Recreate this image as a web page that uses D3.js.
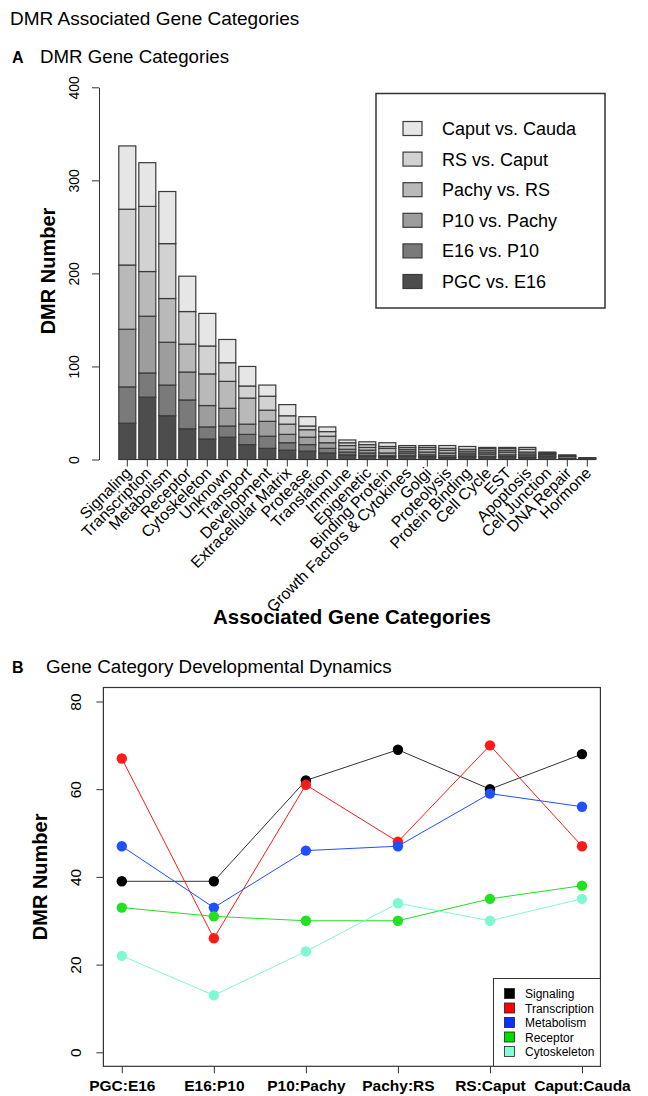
<!DOCTYPE html>
<html><head><meta charset="utf-8">
<script src="https://cdn.jsdelivr.net/npm/d3@7"></script>
<style>
html,body{margin:0;padding:0;background:#fff;}
svg text{font-family:"Liberation Sans",Arial,Helvetica,sans-serif;fill:#000;}
</style></head>
<body>
<svg id="c" width="648" height="1096"></svg>
<script>
// ---------- DATA ----------
const categories = ["Signaling","Transcription","Metabolism","Receptor","Cytoskeleton","Unknown","Transport","Development","Extracellular Matrix","Protease","Translation","Immune","Epigenetic","Binding Protein","Growth Factors & Cytokines","Golgi","Proteolysis","Protein Binding","Cell Cycle","EST","Apoptosis","Cell Junction","DNA Repair","Hormone"];
const stageNames = ["PGC vs. E16","E16 vs. P10","P10 vs. Pachy","Pachy vs. RS","RS vs. Caput","Caput vs. Cauda"];
const stageShort = ["PGC:E16","E16:P10","P10:Pachy","Pachy:RS","RS:Caput","Caput:Cauda"];
const pgcE16     = [39,67,47,33,22,24,16,12,10,9,7,5,4,3,4,3,2,3,3,3,2,3,0,1];
const e16P10     = [39,26,33,31,13,12,11,13,8,7,5,3,3,1,3,2,2,2,3,2,2,2,0,0];
const p10Pachy   = [62,61,46,30,23,19,11,16,9,8,6,3,3,3,2,3,3,2,2,3,2,1,1,0];
const pachyRS    = [69,48,47,30,34,29,28,12,11,8,7,4,3,5,2,3,3,2,2,2,2,1,2,0];
const rsCaput    = [60,70,59,35,30,20,13,15,9,4,5,3,3,2,2,2,2,2,2,2,3,0,1,0];
const caputCauda = [68,47,56,38,35,25,21,12,12,10,5,3,3,4,2,2,3,3,1,1,2,1,1,1];
const stageFills = ["#4d4d4d","#7a7a7a","#9d9d9d","#b9b9b9","#d2d2d2","#e6e6e6"];
const yTicksA = [0,100,200,300,400];
const yTicksB = [0,20,40,60,80];
const lineCats = ["Signaling","Transcription","Metabolism","Receptor","Cytoskeleton"];
const lineColors = ["#000000","#ff1a1a","#1f4fff","#22e022","#7ff8d4"];
const legendFillsB = ["#000000","#ff0000","#0033ff","#00dd00","#80ffd4"];

const stageSeries = [pgcE16,e16P10,p10Pachy,pachyRS,rsCaput,caputCauda];

const svg = d3.select("#c");

// ---------- TITLES ----------
svg.append("text").attr("x",10).attr("y",25).style("font-size","19px").text("DMR Associated Gene Categories");
svg.append("text").attr("x",12).attr("y",63).style("font-size","16px").style("font-weight","bold").text("A");
svg.append("text").attr("x",40).attr("y",63).style("font-size","18.7px").text("DMR Gene Categories");

// ---------- CHART A ----------
const yA = d3.scaleLinear().domain([0,400]).range([459.5,87.3]);
const xA = d3.scaleBand().domain(categories).range([117.3,597.3]).paddingInner(0.15).paddingOuter(0.075);

const rows = categories.map((c,i)=>{const o={cat:c}; stageNames.forEach((s,k)=>o[s]=stageSeries[k][i]); return o;});
const stack = d3.stack().keys(stageNames)(rows);

const gA = svg.append("g");
stack.forEach((layer,k)=>{
  gA.selectAll(null).data(layer.filter(d=>d[1]-d[0]>0)).enter().append("rect")
    .attr("x",d=>xA(d.data.cat)).attr("width",xA.bandwidth())
    .attr("y",d=>yA(d[1])).attr("height",d=>yA(d[0])-yA(d[1]))
    .attr("fill",stageFills[k]).attr("stroke","#3a3a3a").attr("stroke-width",1.2);
});

// y axis A
const axA = svg.append("g").attr("transform","translate(99,0)")
  .call(d3.axisLeft(yA).tickValues(yTicksA).tickSize(7).tickSizeOuter(0).tickFormat(d3.format("d")));
axA.select(".domain").attr("stroke","#333");
axA.selectAll(".tick line").attr("stroke","#333");
axA.selectAll(".tick text").attr("transform","rotate(-90)").attr("x",0).attr("y",-20).attr("dy","0")
  .attr("text-anchor","middle").style("font-size","14px").style("font-family","Liberation Sans, Arial");
svg.append("text").attr("transform","translate(55,271) rotate(-90)").attr("text-anchor","middle")
  .style("font-size","20px").style("font-weight","bold").text("DMR Number");

// x axis A
const cx = c=>xA(c)+xA.bandwidth()/2;
svg.append("line").attr("x1",cx(categories[0])).attr("x2",cx(categories[categories.length-1]))
  .attr("y1",459.5).attr("y2",459.5).attr("stroke","#333");
svg.append("g").selectAll("line").data(categories).enter().append("line")
  .attr("x1",cx).attr("x2",cx).attr("y1",459.5).attr("y2",466.5).attr("stroke","#333");
svg.append("g").selectAll("text").data(categories).enter().append("text")
  .attr("transform",c=>`translate(${cx(c)+5},${474}) rotate(-45)`)
  .attr("text-anchor","end").style("font-size","15.8px").text(c=>c);
svg.append("text").attr("x",352).attr("y",624).attr("text-anchor","middle")
  .style("font-size","20.5px").style("font-weight","bold").text("Associated Gene Categories");

// legend A
const lgA = svg.append("g");
lgA.append("rect").attr("x",376).attr("y",93.5).attr("width",229).attr("height",214.5)
  .attr("fill","#fff").attr("stroke","#333").attr("stroke-width",1.5);
const legOrder = stageNames.map((s,k)=>k).reverse();
const legY = d3.scalePoint().domain(legOrder).range([128.5,281.5]);
legOrder.forEach(k=>{
  lgA.append("rect").attr("x",403).attr("y",legY(k)-7).attr("width",19).attr("height",14)
    .attr("fill",stageFills[k]).attr("stroke","#3a3a3a").attr("stroke-width",1.2);
  lgA.append("text").attr("x",442).attr("y",legY(k)+6.5).style("font-size","18px").text(stageNames[k]);
});

// ---------- CHART B ----------
svg.append("text").attr("x",12).attr("y",673).style("font-size","16px").style("font-weight","bold").text("B");
svg.append("text").attr("x",46).attr("y",673).style("font-size","18.8px").text("Gene Category Developmental Dynamics");

const xB = d3.scalePoint().domain(stageShort).range([121.8,582]);
const yB = d3.scaleLinear().domain([0,80]).range([1052.3,701.5]);
const boxL=103.4, boxR=600.4, boxT=687.5, boxB=1066.3;
svg.append("rect").attr("x",boxL).attr("y",boxT).attr("width",boxR-boxL).attr("height",boxB-boxT)
  .attr("fill","none").attr("stroke","#333").attr("stroke-width",1.2);

const axB = svg.append("g").attr("transform",`translate(${boxL},0)`)
  .call(d3.axisLeft(yB).tickValues(yTicksB).tickSize(7).tickSizeOuter(0));
axB.select(".domain").remove();
axB.selectAll(".tick line").attr("stroke","#333");
axB.selectAll(".tick text").attr("transform","rotate(-90)").attr("x",0).attr("y",-22).attr("dy","0")
  .attr("text-anchor","middle").style("font-size","15.5px").style("font-family","Liberation Sans, Arial");
svg.append("text").attr("transform",`translate(47,${(boxT+boxB)/2}) rotate(-90)`).attr("text-anchor","middle")
  .style("font-size","20px").style("font-weight","bold").text("DMR Number");

const axBx = svg.append("g").attr("transform",`translate(0,${boxB})`)
  .call(d3.axisBottom(xB).tickSize(7).tickSizeOuter(0));
axBx.select(".domain").remove();
axBx.selectAll(".tick line").attr("stroke","#333");
axBx.selectAll(".tick text").attr("y",25).attr("dy","0").style("font-size","15.5px").style("font-weight","bold")
  .style("font-family","Liberation Sans, Arial");

lineCats.forEach((cat,j)=>{
  const idx = categories.indexOf(cat);
  const vals = stageSeries.map(a=>a[idx]);
  const pts = stageShort.map((s,k)=>[xB(s),yB(vals[k])]);
  svg.append("path").attr("d",d3.line()(pts)).attr("fill","none").attr("stroke",j===0?"#333":lineColors[j]).attr("stroke-width",1);
  svg.append("g").selectAll("circle").data(pts).enter().append("circle")
    .attr("cx",d=>d[0]).attr("cy",d=>d[1]).attr("r",5.2).attr("fill",lineColors[j]);
});

// legend B
const lgB = svg.append("g");
lgB.append("rect").attr("x",493.5).attr("y",978.5).attr("width",106.9).attr("height",87.8)
  .attr("fill","#fff").attr("stroke","#333").attr("stroke-width",1);
const legYB = d3.scalePoint().domain(lineCats).range([993.5,1051.5]);
lineCats.forEach((cat,j)=>{
  lgB.append("rect").attr("x",504.5).attr("y",legYB(cat)-5).attr("width",10).attr("height",10)
    .attr("fill",legendFillsB[j]).attr("stroke","#222").attr("stroke-width",0.8);
  lgB.append("text").attr("x",525).attr("y",legYB(cat)+4.5).style("font-size","12px").text(cat);
});
</script>
</body></html>
